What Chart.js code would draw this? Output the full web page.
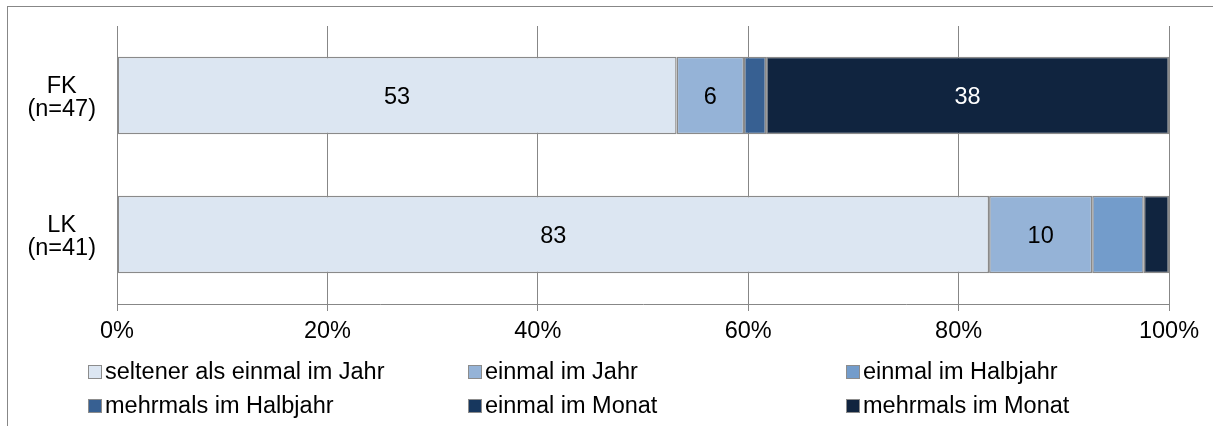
<!DOCTYPE html>
<html>
<head>
<meta charset="utf-8">
<script src="https://cdn.jsdelivr.net/npm/chart.js@4/dist/chart.umd.min.js"></script>
<style>
  html, body { margin: 0; padding: 0; background: #fff; overflow: hidden; }
  #frame { position: absolute; left: 7px; top: 6px; width: 1400px; height: 600px;
           border-top: 1px solid #878787; border-left: 1px solid #878787; }
  #wrap { position: absolute; left: 0; top: 0; width: 1213px; height: 426px; }
</style>
</head>
<body>
<div id="frame"></div>
<div id="wrap"><canvas id="c" width="1213" height="426"></canvas></div>
<script>
// Groups (two-line axis labels)
const categories = [['FK', '(n=47)'], ['LK', '(n=41)']];

// Share of answers per group, in percent
const seltenerAlsEinmalImJahr = [53.2, 82.9];
const einmalImJahr            = [6.4, 9.8];
const einmalImHalbjahr        = [null, 4.9];
const mehrmalsImHalbjahr      = [2.1, null];
const einmalImMonat           = [null, null];
const mehrmalsImMonat         = [38.3, 2.4];

const seriesLabels = [
  'seltener als einmal im Jahr', 'einmal im Jahr', 'einmal im Halbjahr',
  'mehrmals im Halbjahr', 'einmal im Monat', 'mehrmals im Monat'
];
const seriesValues = [
  seltenerAlsEinmalImJahr, einmalImJahr, einmalImHalbjahr,
  mehrmalsImHalbjahr, einmalImMonat, mehrmalsImMonat
];
const seriesColors = ['#DCE6F2', '#95B3D7', '#739CCB', '#376092', '#17375E', '#10243F'];
const labelColors  = ['#000', '#000', '#000', '#fff', '#fff', '#fff'];

const xTickValues = [0, 20, 40, 60, 80, 100];

const FONT = '"Liberation Sans", Arial, sans-serif';
const FONT_SIZE = 23.5;
const GRID = '#878787';

// Rounded value labels inside the wider segments
const valueLabels = {
  id: 'valueLabels',
  afterDatasetsDraw(chart) {
    const ctx = chart.ctx;
    ctx.save();
    ctx.font = FONT_SIZE + 'px ' + FONT;
    ctx.textAlign = 'center';
    ctx.textBaseline = 'middle';
    chart.data.datasets.forEach((ds, di) => {
      const meta = chart.getDatasetMeta(di);
      meta.data.forEach((el, i) => {
        const v = ds.data[i];
        if (v == null || v < 5) return;
        ctx.fillStyle = ds.valueColor;
        ctx.fillText(Math.round(v).toString(), (el.x + el.base) / 2, el.y + 2);
      });
    });
    ctx.restore();
  }
};

// Legend laid out as a 3-column grid under the axis
const gridLegend = {
  id: 'gridLegend',
  afterDraw(chart) {
    const ctx = chart.ctx;
    const cols = [88, 468, 846];
    const rows = [372, 406];
    const box = 14;
    ctx.save();
    ctx.font = FONT_SIZE + 'px ' + FONT;
    ctx.textBaseline = 'middle';
    ctx.textAlign = 'left';
    chart.data.datasets.forEach((ds, i) => {
      const x = cols[i % 3];
      const y = rows[Math.floor(i / 3)];
      ctx.fillStyle = ds.backgroundColor;
      ctx.fillRect(x, y - box / 2, box, box);
      ctx.strokeStyle = '#8c8c8c';
      ctx.lineWidth = 1;
      ctx.strokeRect(x + 0.5, y - box / 2 + 0.5, box - 1, box - 1);
      ctx.fillStyle = '#000';
      ctx.fillText(ds.label, x + box + 3, y + 1);
    });
    ctx.restore();
  }
};

new Chart(document.getElementById('c'), {
  type: 'bar',
  data: {
    labels: categories,
    datasets: seriesLabels.map((label, i) => ({
      label,
      data: seriesValues[i],
      backgroundColor: seriesColors[i],
      valueColor: labelColors[i],
      borderColor: '#8a8a8a',
      borderWidth: 1.5,
      borderSkipped: false,
      categoryPercentage: 1,
      barPercentage: 0.556
    }))
  },
  options: {
    indexAxis: 'y',
    responsive: false,
    animation: false,
    devicePixelRatio: 1,
    layout: { padding: { left: 0, right: 44, top: 26, bottom: 0 } },
    plugins: { legend: { display: false }, tooltip: { enabled: false } },
    scales: {
      x: {
        stacked: true,
        min: 0,
        max: 100,
        afterBuildTicks(scale) { scale.ticks = xTickValues.map(v => ({ value: v })); },
        afterFit(scale) { scale.height = 122; },
        ticks: {
          callback: v => v + '%',
          color: '#000',
          font: { family: FONT, size: FONT_SIZE },
          padding: 6,
          maxRotation: 0
        },
        grid: { color: GRID, lineWidth: 1, tickLength: 7, drawOnChartArea: true },
        border: { color: GRID, width: 1 }
      },
      y: {
        stacked: true,
        afterFit(scale) {
          scale.width = 117;
          scale.paddingTop = 0;
          scale.paddingBottom = 0;
        },
        ticks: {
          color: '#000',
          font: { family: FONT, size: FONT_SIZE, lineHeight: 0.98 },
          crossAlign: 'center',
          labelOffset: 3,
          padding: 21
        },
        grid: { display: false, drawTicks: false },
        border: { display: false }
      }
    }
  },
  plugins: [valueLabels, gridLegend]
});
</script>
</body>
</html>
